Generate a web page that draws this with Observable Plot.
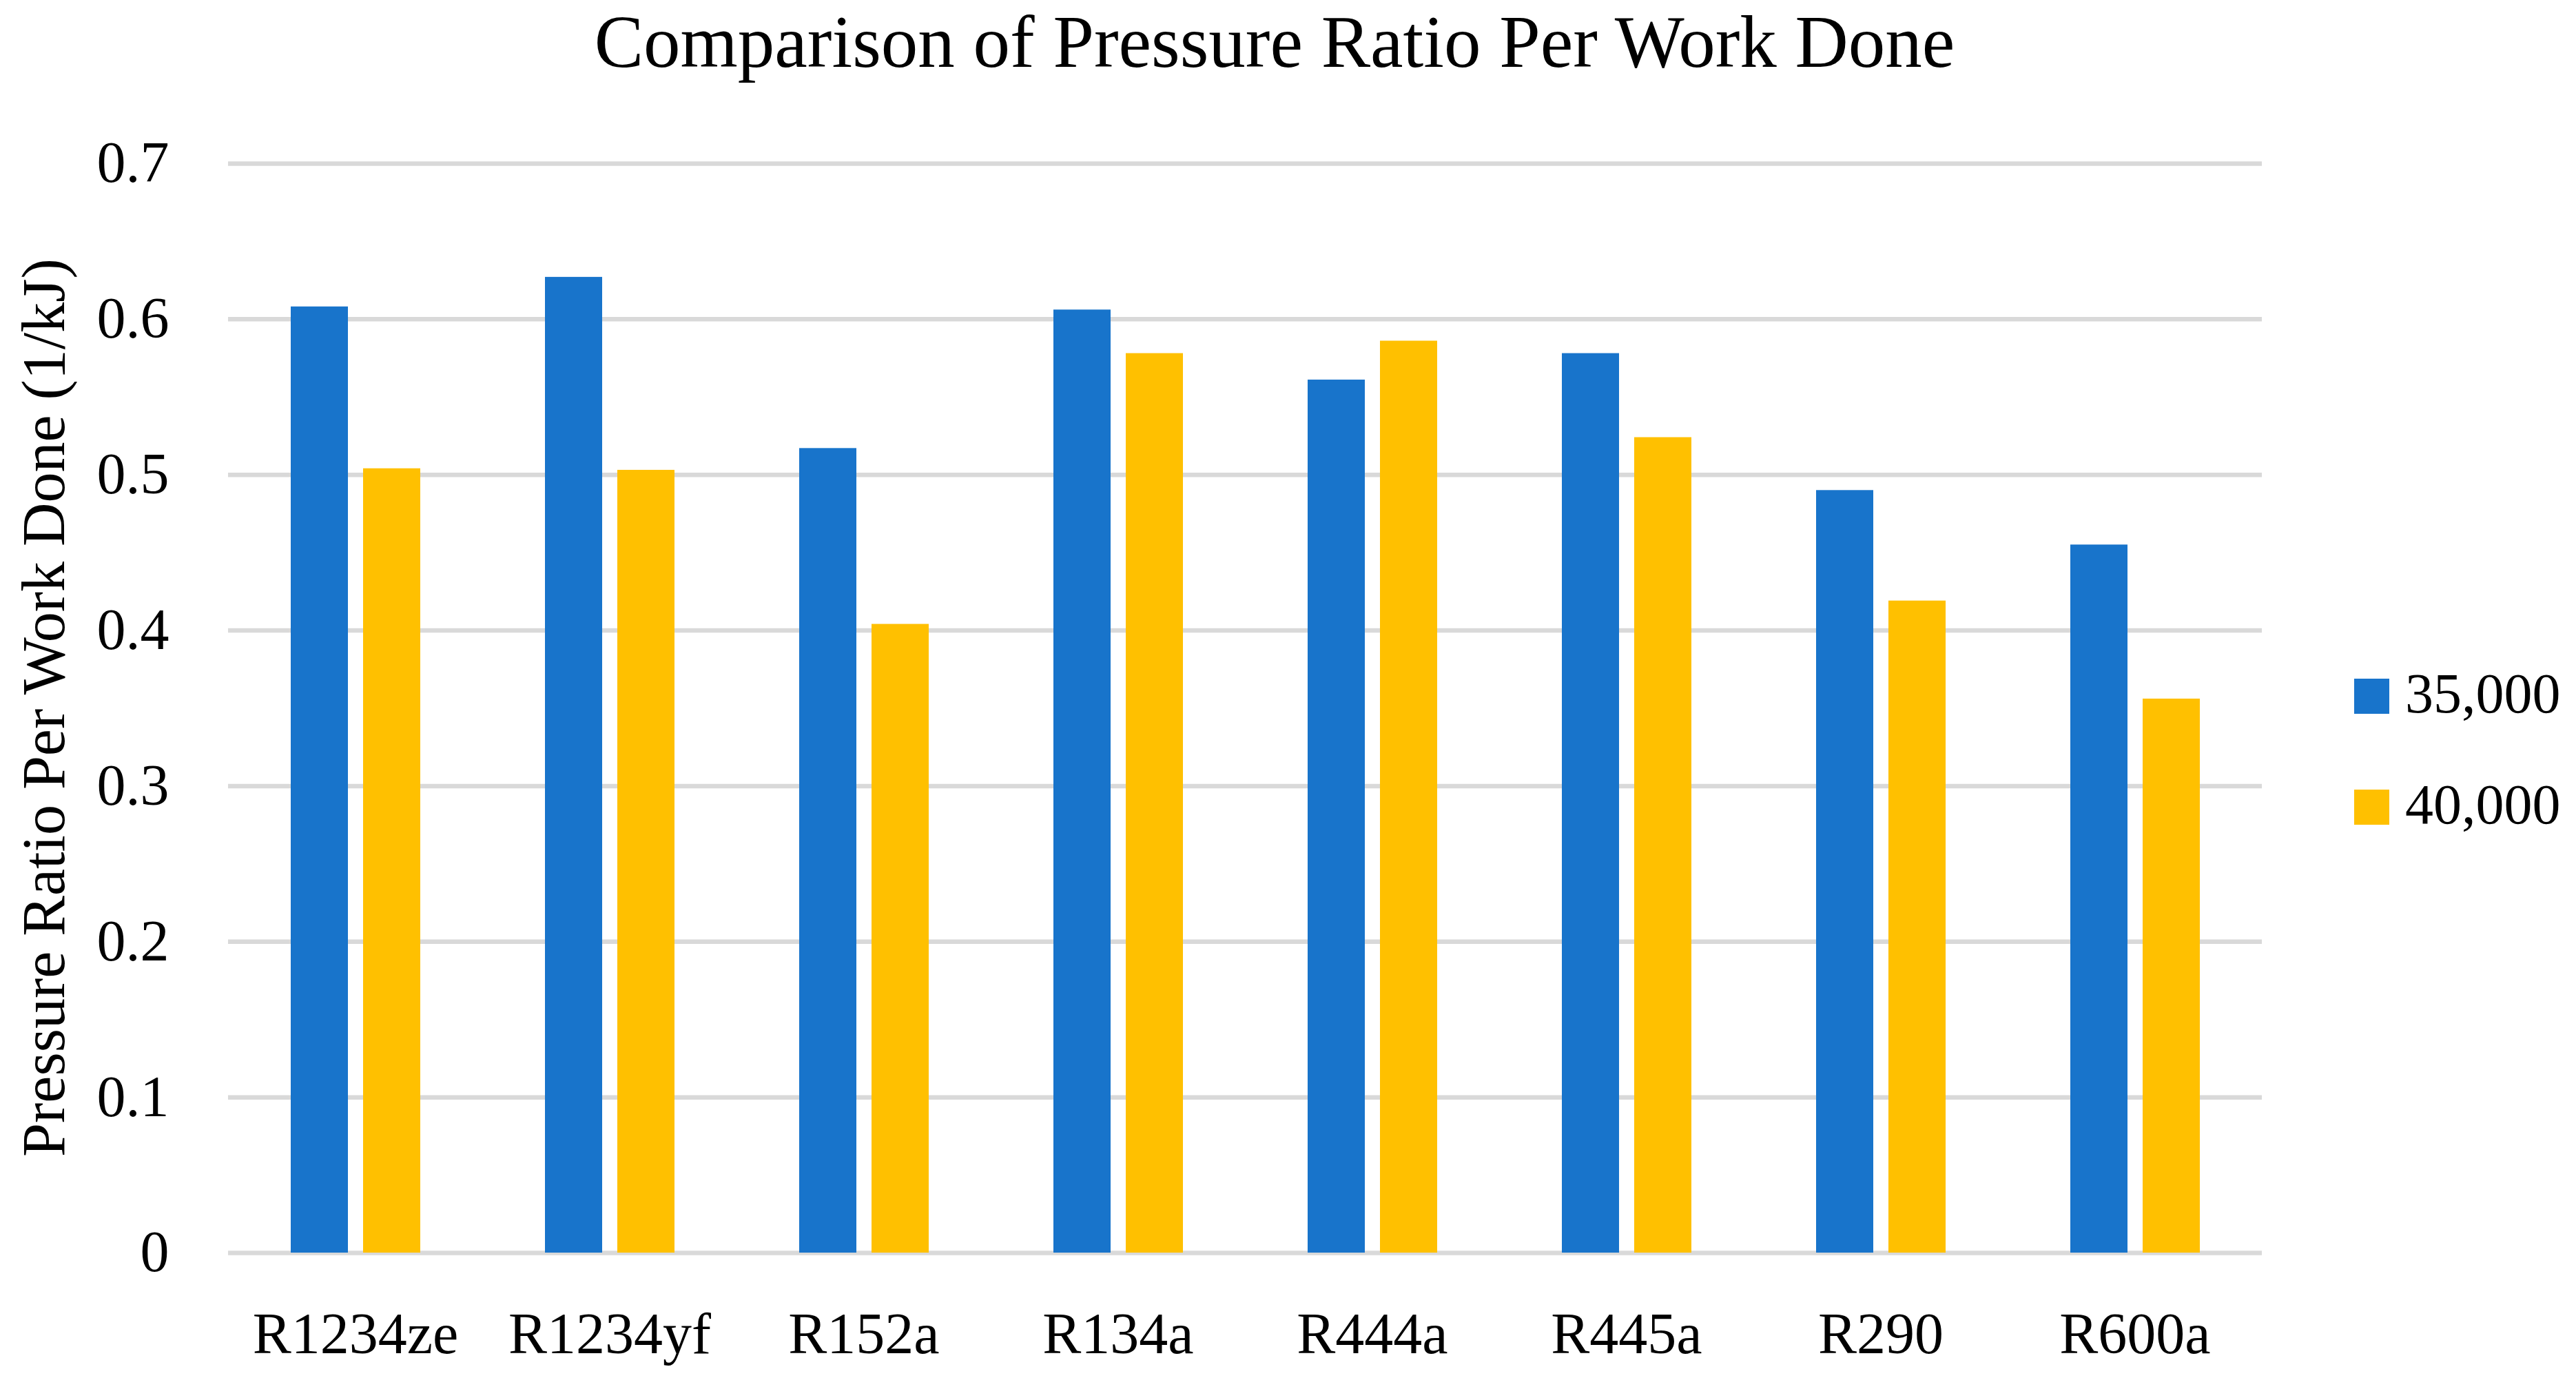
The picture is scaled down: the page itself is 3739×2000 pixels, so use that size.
<!DOCTYPE html>
<html>
<head>
<meta charset="utf-8">
<script src="https://cdn.jsdelivr.net/npm/d3@7"></script>
<script src="https://cdn.jsdelivr.net/npm/@observablehq/plot@0.6"></script>
<style>
  html, body { margin: 0; padding: 0; background: #ffffff; overflow: hidden; }
  #wrap { position: relative; width: 3739px; height: 2000px; font-family: "Liberation Serif", "DejaVu Serif", serif; color: #000; }
  #chart { position: absolute; left: 0; top: 0; }
  .title { position: absolute; left: 1850px; top: 8px; transform: translateX(-50%); font-size: 107px; line-height: 1; white-space: nowrap; }
  .ylabel { position: absolute; left: 64px; top: 1027px; transform: translate(-50%, -50%) rotate(-90deg); font-size: 88px; line-height: 1.15; white-space: nowrap; }
  .legend-item { position: absolute; left: 3417px; height: 120px; }
  .swatch { position: absolute; left: 0; width: 51px; height: 51px; }
  .ltext { position: absolute; left: 74px; font-size: 82px; line-height: 1; white-space: nowrap; }
</style>
</head>
<body>
<div id="wrap">
  <div id="chart"></div>
  <div class="title">Comparison of Pressure Ratio Per Work Done</div>
  <div class="ylabel">Pressure Ratio Per Work Done (1/kJ)</div>
  <div id="legend"></div>
</div>
<script>
const categories = ["R1234ze", "R1234yf", "R152a", "R134a", "R444a", "R445a", "R290", "R600a"];
const series = ["35,000", "40,000"];
const values35000 = [0.608, 0.627, 0.517, 0.606, 0.561, 0.578, 0.490, 0.455];
const values40000 = [0.504, 0.503, 0.404, 0.578, 0.586, 0.524, 0.419, 0.356];
const yTicks = [0, 0.1, 0.2, 0.3, 0.4, 0.5, 0.6, 0.7];
const seriesColors = ["#1874CB", "#FFC000"];

const data = [];
categories.forEach((c, i) => {
  data.push({category: c, series: series[0], value: values35000[i]});
  data.push({category: c, series: series[1], value: values40000[i]});
});

const chart = Plot.plot({
  width: 3739,
  height: 2000,
  marginLeft: 331,
  marginRight: 456,
  marginTop: 237,
  marginBottom: 182,
  style: {fontFamily: "Liberation Serif", fontSize: "84px", color: "#000", background: "transparent"},
  fx: {domain: categories, padding: 0, label: null, axis: "bottom", tickSize: 0, tickPadding: 86},
  x: {domain: series, axis: null, paddingInner: 0.21, paddingOuter: 0.862},
  y: {domain: [0, 0.7], ticks: yTicks, tickFormat: d => d === 0 ? "0" : d.toFixed(1), tickSize: 0, tickPadding: 86, label: null},
  color: {domain: series, range: seriesColors},
  marks: [
    Plot.ruleY(yTicks, {stroke: "#d9d9d9", strokeWidth: 6.5}),
    Plot.barY(data, {fx: "category", x: "series", y: "value", fill: "series"})
  ]
});
document.getElementById("chart").appendChild(chart);

const legend = document.getElementById("legend");
const legendTops = [985, 1146];
series.forEach((s, i) => {
  const item = document.createElement("div");
  item.className = "legend-item";
  item.style.top = legendTops[i] + "px";
  const sw = document.createElement("div");
  sw.className = "swatch";
  sw.style.top = "0px";
  sw.style.background = seriesColors[i];
  const t = document.createElement("div");
  t.className = "ltext";
  t.style.top = "-19px";
  t.textContent = s;
  item.appendChild(sw);
  item.appendChild(t);
  legend.appendChild(item);
});
</script>
</body>
</html>
